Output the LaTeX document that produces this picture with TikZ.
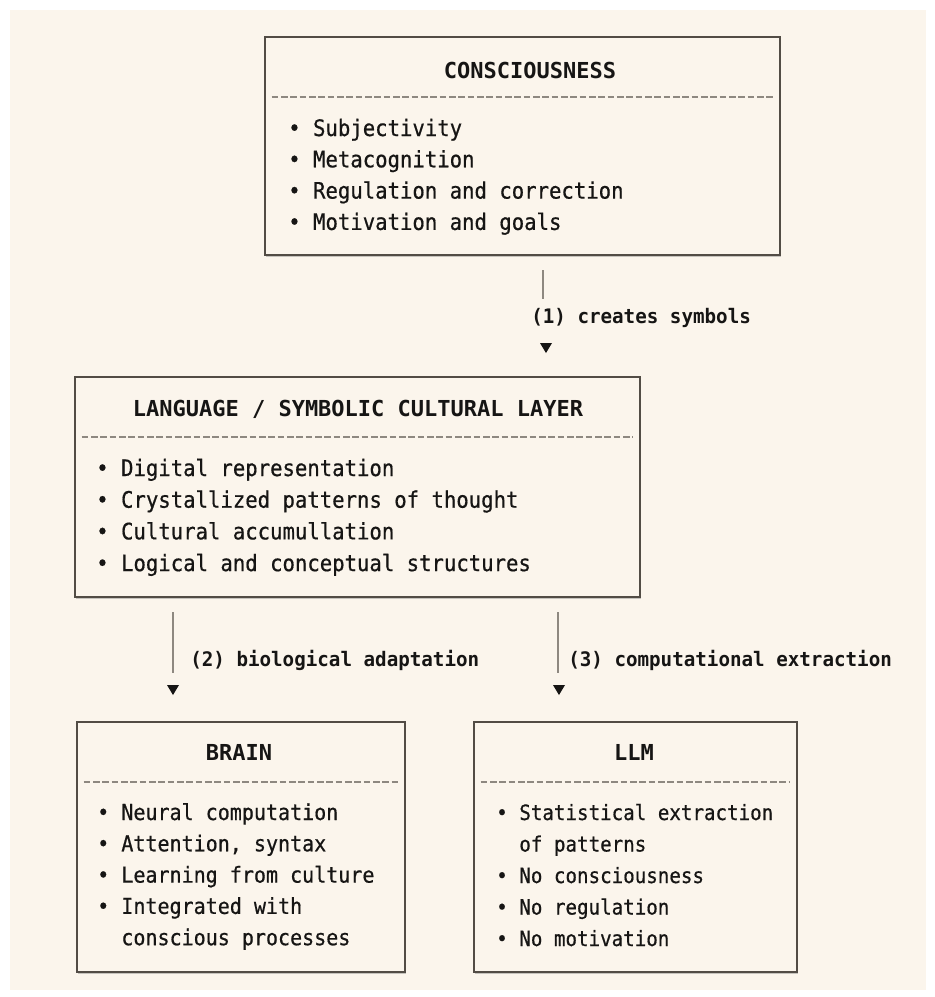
\documentclass[tikz,border=0pt]{standalone}
\usepackage{fontspec}
\setmonofont{DejaVu Sans Mono}
\newfontfamily\bodyfont[FakeStretch=0.91,FakeBold=0.6]{DejaVu Sans Mono}
\newfontfamily\labelfont[FakeStretch=0.96]{DejaVu Sans Mono}
\usetikzlibrary{shadows}

\definecolor{paper}{HTML}{FBF5EC}
\definecolor{boxline}{HTML}{524C45}
\definecolor{rulegray}{HTML}{8E8880}
\definecolor{ink}{HTML}{161514}

\tikzset{
  panel/.style={draw=boxline, line width=1.9pt, fill=paper, inner sep=0pt,
    drop shadow={shadow xshift=1pt, shadow yshift=-1.5pt, opacity=.35, fill=black!60}},
  title/.style={anchor=base, inner sep=0pt, text=ink, font=\ttfamily\bfseries\fontsize{16.5}{20}\selectfont},
  item/.style={anchor=base west, inner sep=0pt, text=ink, font=\bodyfont\fontsize{#1}{20}\selectfont},
  item/.default=17,
  sep/.style={rulegray, line width=1.1pt, dash pattern=on 5pt off 2pt},
  conn/.style={draw=rulegray, line width=1.3pt},
  tag/.style={anchor=base west, inner sep=0pt, text=ink, font=\labelfont\bfseries\fontsize{15}{18}\selectfont},
  tipfill/.style={fill=ink},
}

\begin{document}
\begin{tikzpicture}[x=0.75pt, y=-0.75pt]
\useasboundingbox (0,0) rectangle (935,997);
\fill[white] (0,0) rectangle (935,997);
\fill[paper] (10,10) rectangle (926,990);

% boxes
\node[panel, minimum width=386.25pt, minimum height=163.5pt] (top) at (522.5,146) {};
\node[panel, minimum width=423.75pt, minimum height=165pt] (lang) at (357.5,487) {};
\node[panel, minimum width=246pt, minimum height=187.5pt] (brain) at (241,847) {};
\node[panel, minimum width=242.25pt, minimum height=187.5pt] (llm) at (635.5,847) {};

% titles
\node[title] (toptitle) at (530,78) {CONSCIOUSNESS};
\node[title] (langtitle) at (358,416) {LANGUAGE / SYMBOLIC CULTURAL LAYER};
\node[title] (braintitle) at (239,760) {BRAIN};
\node[title] (llmtitle) at (634,760) {LLM};

% separators
\foreach \b in {top,lang,brain,llm}
  \draw[sep] ([xshift=6pt,yshift=-46pt]\b.north west) -- ([xshift=-6pt,yshift=-46pt]\b.north east);

% lists
\foreach \t [count=\i from 0] in {Subjectivity, Metacognition, Regulation and correction, Motivation and goals}
  \node[item] (top-\i) at (288,136+\i*31.3) {• \t};
\foreach \t [count=\i from 0] in {Digital representation, Crystallized patterns of thought, Cultural accumullation, Logical and conceptual structures}
  \node[item] (lang-\i) at (96,476+\i*31.7) {• \t};
\foreach \t [count=\i from 0] in {• Neural computation, {• Attention, syntax}, • Learning from culture, • Integrated with, \hphantom{••}conscious processes}
  \node[item=16.5] (brain-\i) at (97,820+\i*31.3) {\t};
\foreach \t [count=\i from 0] in {• Statistical extraction, \hphantom{••}of patterns, • No consciousness, • No regulation, • No motivation}
  \node[item=15.8] (llm-\i) at (496,820+\i*31.5) {\t};

% connectors
\coordinate (c1a) at (543,270);
\coordinate (c1b) at (543,299);
\coordinate (c2a) at (173,612);
\coordinate (c2b) at (173,673);
\coordinate (c3a) at (558,612);
\coordinate (c3b) at (558,673);
\draw[conn] (c1a) -- (c1b);
\draw[conn] (c2a) -- (c2b);
\draw[conn] (c3a) -- (c3b);
\node[tag] (lab1) at (531,323) {(1) creates symbols};
\node[tag] (lab2) at (190,666) {(2) biological adaptation};
\node[tag] (lab3) at (568,666) {(3) computational extraction};

% arrow heads
\coordinate (t1) at (546,348);
\coordinate (t2) at (173,690);
\coordinate (t3) at (559,690);
\foreach \t in {t1,t2,t3}
  \fill[tipfill] (\t) ++(-6,-5) -- ++(12,0) -- ++(-6,10) -- cycle;
\end{tikzpicture}
\end{document}
